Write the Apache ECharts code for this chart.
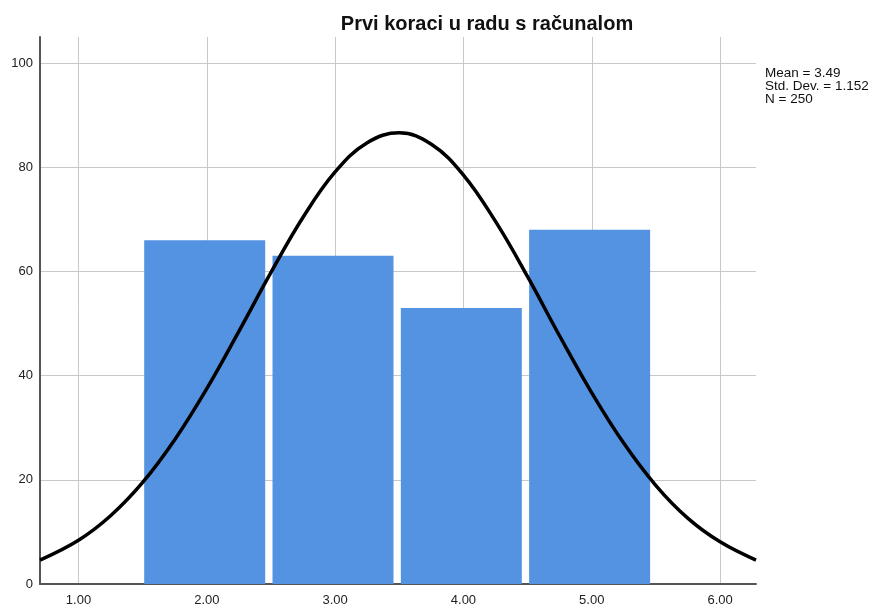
<!DOCTYPE html>
<html>
<head>
<meta charset="utf-8">
<script src="https://cdn.jsdelivr.net/npm/echarts@6/dist/echarts.min.js"></script>
<style>html,body{margin:0;padding:0;background:#fff}#c{width:873px;height:607px}</style>
</head>
<body>
<div id="c"></div>
<script>
var title = 'Prvi koraci u radu s računalom';
var binCenters = [2, 3, 4, 5];
var binCounts = [66, 63, 53, 68];
var curveX = [0.7, 1.0, 1.25, 1.5, 1.75, 2.0, 2.25, 2.5, 2.75, 3.0, 3.25, 3.5, 3.75, 4.0, 4.25, 4.5, 4.75, 5.0, 5.25, 5.5, 5.75, 6.0, 6.28];
var curveY = [4.6, 8.4, 13.1, 19.5, 27.7, 37.5, 48.5, 59.8, 70.4, 79.1, 84.7, 86.6, 84.4, 78.5, 69.6, 59.0, 47.6, 36.7, 27.0, 18.9, 12.6, 8.1, 4.6];
var xTicks = [1, 2, 3, 4, 5, 6];
var yTicks = [0, 20, 40, 60, 80, 100];
var statsLines = ['Mean = 3.49', 'Std. Dev. = 1.152', 'N = 250'];

var chart = echarts.init(document.getElementById('c'));
var barData = binCenters.map(function (c, i) { return [c, binCounts[i]]; });
var curveData = curveX.map(function (x, i) { return [x, curveY[i]]; });
var font = 'Arial, "Liberation Sans", sans-serif';

chart.setOption({
  backgroundColor: '#fff',
  animation: false,
  title: {
    text: title,
    left: 482, top: 9, textAlign: 'center',
    textStyle: { fontFamily: font, fontSize: 20, fontWeight: 'bold', color: '#111' }
  },
  graphic: [{
    type: 'text', left: 765, top: 66,
    style: { text: statsLines.join('\n'), fontFamily: font, fontSize: 13.5, lineHeight: 13, fill: '#111' }
  }],
  grid: { left: 40, right: 117, top: 37, bottom: 23 },
  xAxis: {
    type: 'value', min: 0.7, max: 6.28,
    axisLine: { show: true, onZero: false, lineStyle: { color: '#555', width: 2 } },
    axisTick: { show: false, customValues: xTicks },
    axisLabel: { customValues: xTicks, formatter: function (v) { return v.toFixed(2); }, fontFamily: font, fontSize: 13, color: '#222', margin: 10 },
    splitLine: { show: true, lineStyle: { color: '#c8c8c8', width: 1 } }
  },
  yAxis: {
    type: 'value', min: 0, max: 105,
    axisLine: { show: true, lineStyle: { color: '#555', width: 2 } },
    axisTick: { show: false, customValues: yTicks },
    axisLabel: { customValues: yTicks, fontFamily: font, fontSize: 13, color: '#222', margin: 7 },
    splitLine: { show: true, lineStyle: { color: '#c8c8c8', width: 1 } }
  },
  series: [{
    type: 'custom',
    data: barData,
    z: 2,
    renderItem: function (params, api) {
      var c = api.value(0), v = api.value(1);
      var p0 = api.coord([c - 0.5 + 0.012, v]);
      var p1 = api.coord([c + 0.5 - 0.045, 0]);
      return {
        type: 'rect',
        shape: { x: p0[0], y: p0[1], width: p1[0] - p0[0], height: p1[1] - p0[1] },
        style: { fill: '#5492e2' }
      };
    }
  }, {
    type: 'line',
    data: curveData,
    smooth: 0.4,
    showSymbol: false,
    z: 3,
    lineStyle: { color: '#000', width: 3.5 }
  }]
});
</script>
</body>
</html>
